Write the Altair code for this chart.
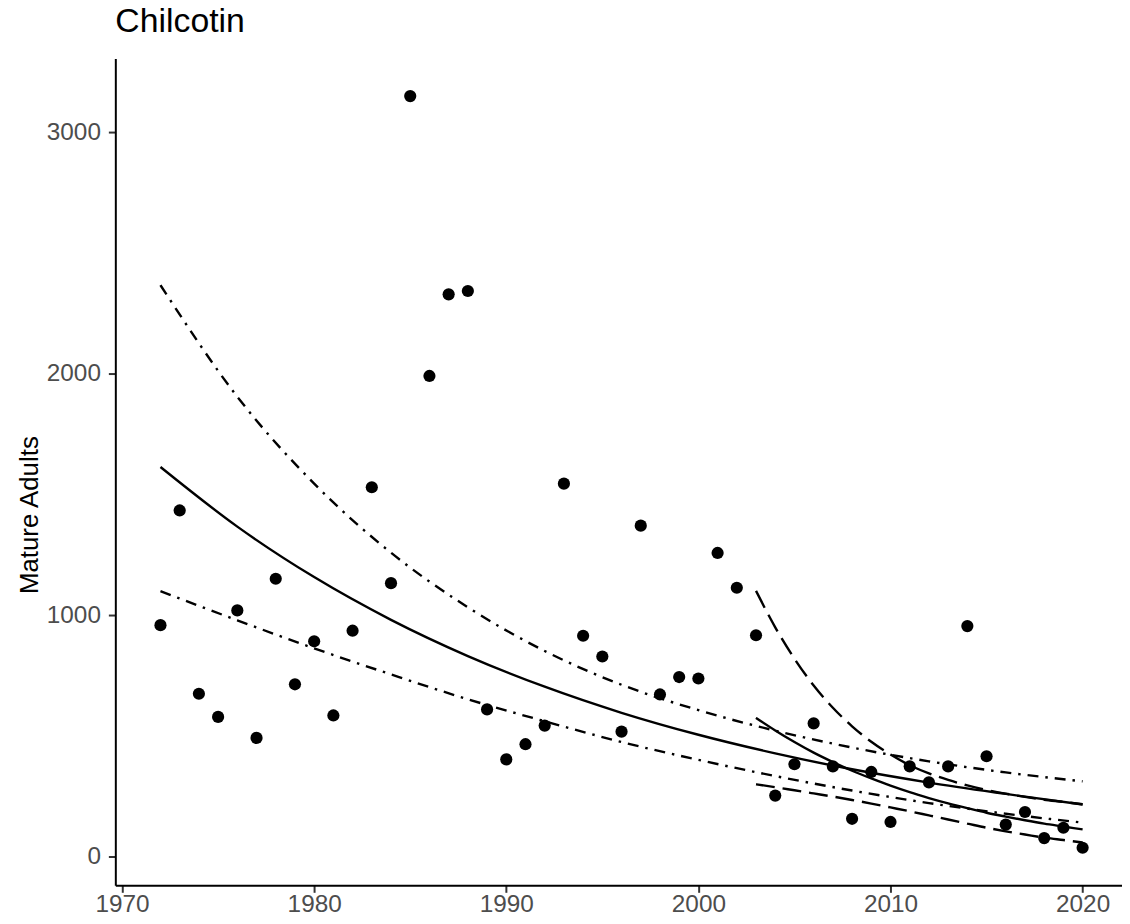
import altair as alt
import pandas as pd

years = list(range(1972, 2021))
adults = [959, 1434, 675, 579, 1020, 492, 1151, 714, 892, 585,
          936, 1530, 1133, 3150, 1991, 2329, 2343, 610, 403, 466,
          543, 1545, 915, 829, 518, 1371, 672, 744, 738, 1258,
          1114, 917, 253, 383, 552, 374, 157, 351, 144, 374,
          308, 374, 955, 416, 133, 185, 77, 120, 37]

# ---- full-period fit and its interval ----
fit_years = [1972, 1976, 1980, 1984, 1988, 1992, 1996, 2000, 2004, 2008, 2012, 2016, 2020]
fit_mid = [1614, 1367, 1158, 981, 831, 704, 596, 505, 428, 362, 307, 260, 216]
fit_upper = [2367, 1905, 1545, 1259, 1033, 852, 712, 607, 522, 452, 395, 349, 312]
fit_lower = [1100, 979, 863, 755, 652, 561, 475, 401, 334, 274, 222, 178, 141]

# ---- recent fit (2003-2020) and its interval ----
rec_years = list(range(2003, 2021))
rec_mid = [575, 523, 475, 431, 392, 356, 324, 294, 267, 243, 221, 201, 182, 166, 151, 137, 125, 113]
rec_upper = [1101, 950, 820, 709, 617, 540, 476, 423, 379, 345, 318, 295, 276, 261, 248, 236, 227, 217]
rec_lower = [300, 288, 275, 262, 249, 235, 220, 204, 188, 171, 154, 137, 120, 105, 92, 79, 69, 59]

x_ticks = [1970, 1980, 1990, 2000, 2010, 2020]
y_ticks = [0, 1000, 2000, 3000]

pts = pd.DataFrame({"year": years, "adults": adults})


def curve_df(xs, ys, name):
    return pd.DataFrame({"year": xs, "value": ys, "curve": [name] * len(xs)})


full_mid = curve_df(fit_years, fit_mid, "fit")
full_ci = pd.concat([curve_df(fit_years, fit_upper, "upper"),
                     curve_df(fit_years, fit_lower, "lower")])
recent_mid = curve_df(rec_years, rec_mid, "rfit")
recent_ci = pd.concat([curve_df(rec_years, rec_upper, "rupper"),
                       curve_df(rec_years, rec_lower, "rlower")])

xscale = alt.Scale(domain=[1969.65, 2022.05], nice=False, zero=False)
yscale = alt.Scale(domain=[-118.6, 3305.6], nice=False, zero=False)

x_axis = alt.Axis(title=None, values=x_ticks, format="d", labelPadding=0)
y_axis = alt.Axis(title="Mature Adults", values=y_ticks, format="d",
                  labelPadding=8, titleY=459, titleFontSize=26)

xenc = alt.X("year:Q", scale=xscale, axis=x_axis)
yenc = alt.Y("value:Q", scale=yscale, axis=y_axis)

LW = 2.4


def line_layer(df, dash):
    kw = dict(color="black", strokeWidth=LW, interpolate="monotone", strokeCap="butt")
    if dash:
        kw["strokeDash"] = dash
    return alt.Chart(df).mark_line(**kw).encode(x=xenc, y=yenc, detail="curve:N")


l1 = line_layer(full_mid, None)
l2 = line_layer(full_ci, [11, 7, 2.5, 7])
l3 = line_layer(recent_mid, None)
l4 = line_layer(recent_ci, [19, 8])

points = alt.Chart(pts).mark_circle(color="black", size=150, opacity=1).encode(
    x=alt.X("year:Q", scale=xscale, axis=x_axis),
    y=alt.Y("adults:Q", scale=yscale, axis=y_axis),
)

chart = alt.layer(l1, l2, l3, l4, points).properties(
    width=1013,
    height=832,
    autosize=alt.AutoSizeParams(type="none"),
    padding={"left": 108, "top": 48, "right": 0, "bottom": 28},
    title=alt.TitleParams(
        "Chilcotin", anchor="start", frame="group", fontSize=34,
        font="Liberation Sans", fontWeight="normal", color="black",
        baseline="alphabetic", offset=17, dy=24,
    ),
).configure_view(stroke=None).configure_axis(
    labelFont="Liberation Sans", labelFontSize=24.5, labelColor="#4D4D4D",
    tickColor="#333333", tickWidth=2, tickSize=7,
    domainColor="black", domainWidth=2, grid=False,
    titleFont="Liberation Sans", titleFontWeight="normal",
    titleColor="black", titlePadding=4,
)

chart.save("out.html", embed_options={"renderer": "svg", "actions": False})
